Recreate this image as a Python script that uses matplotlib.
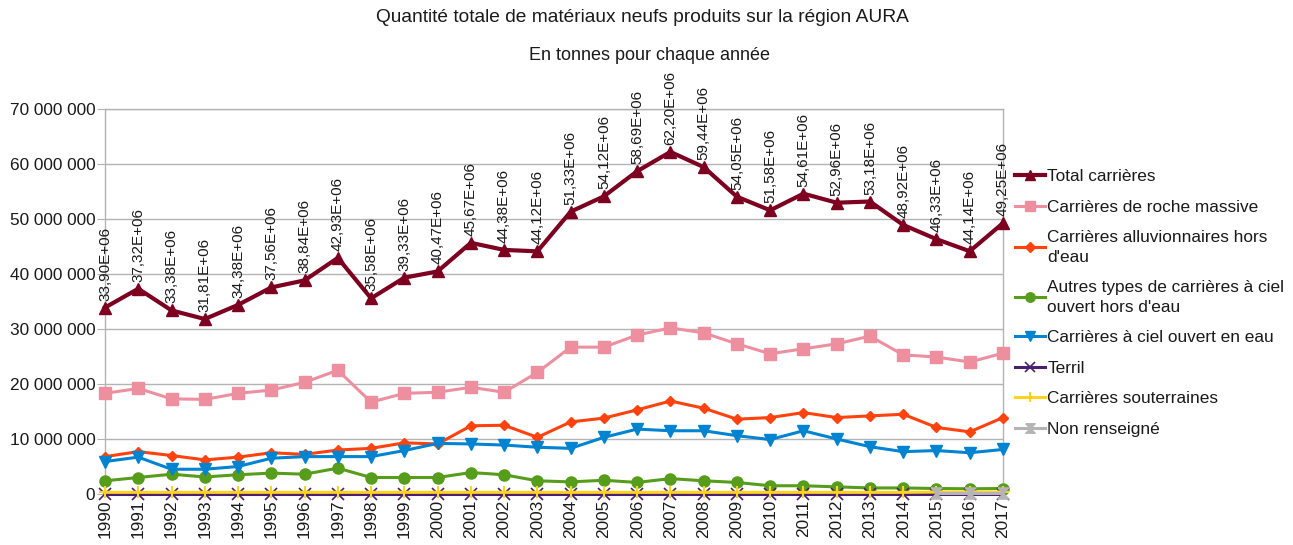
import matplotlib
matplotlib.use("Agg")
import matplotlib.pyplot as plt
import numpy as np
from matplotlib.ticker import FuncFormatter

plt.rcParams['font.family'] = ['Liberation Sans', 'DejaVu Sans']

years = [str(y) for y in range(1990, 2018)]

total = [33.90, 37.32, 33.38, 31.81, 34.38, 37.56, 38.84, 42.93, 35.58, 39.33,
         40.47, 45.67, 44.38, 44.12, 51.33, 54.12, 58.69, 62.20, 59.44, 54.05,
         51.58, 54.61, 52.96, 53.18, 48.92, 46.33, 44.14, 49.25]
roche = [18.3, 19.2, 17.3, 17.2, 18.3, 18.9, 20.3, 22.5, 16.7, 18.3,
         18.5, 19.4, 18.5, 22.1, 26.7, 26.7, 28.9, 30.2, 29.3, 27.3,
         25.5, 26.4, 27.3, 28.7, 25.3, 24.9, 24.0, 25.6]
alluv = [6.8, 7.7, 7.0, 6.2, 6.7, 7.5, 7.2, 8.0, 8.3, 9.3,
         9.1, 12.4, 12.5, 10.3, 13.1, 13.8, 15.3, 16.9, 15.6, 13.6,
         13.9, 14.8, 13.9, 14.2, 14.5, 12.1, 11.3, 13.9]
autres = [2.4, 3.0, 3.6, 3.1, 3.5, 3.8, 3.6, 4.7, 3.0, 3.0,
          3.0, 3.9, 3.5, 2.4, 2.2, 2.5, 2.1, 2.8, 2.4, 2.1,
          1.5, 1.5, 1.3, 1.1, 1.1, 1.0, 0.95, 1.0]
eau = [5.9, 6.7, 4.5, 4.5, 5.0, 6.5, 6.8, 6.8, 6.8, 7.9,
       9.2, 9.1, 8.9, 8.5, 8.3, 10.3, 11.8, 11.5, 11.5, 10.6,
       9.9, 11.5, 10.0, 8.6, 7.7, 7.9, 7.5, 8.1]
terril = [0.0] * 28
souterraines = [0.3] * 25 + [0.35, 0.35, 0.35]
non_renseigne = [np.nan] * 25 + [0.15, 0.15, 0.15]

labels = ["Total carrières", "Carrières de roche massive",
          "Carrières alluvionnaires hors\nd'eau",
          "Autres types de carrières à ciel\nouvert hors d'eau",
          "Carrières à ciel ouvert en eau", "Terril",
          "Carrières souterraines", "Non renseigné"]

hourglass = [(-1, 1), (1, 1), (-1, -1), (1, -1), (-1, 1)]
styles = [
    dict(color='#7e0021', marker='^', lw=3.0, ms=8),
    dict(color='#ee8fa0', marker='s', lw=2.2, ms=8),
    dict(color='#ff420e', marker='D', lw=2.2, ms=5.5),
    dict(color='#579d1c', marker='o', lw=2.2, ms=8),
    dict(color='#0084d1', marker='v', lw=2.2, ms=8),
    dict(color='#4b1f6f', marker='x', lw=2.2, ms=8, mew=1.2),
    dict(color='#ffd320', marker='+', lw=2.2, ms=9, mew=1.5),
    dict(color='#b4b4b4', marker=hourglass, lw=2.2, ms=8),
]
series = [total, roche, alluv, autres, eau, terril, souterraines, non_renseigne]

fig = plt.figure(figsize=(12.93, 5.45), dpi=100)
ax = fig.add_axes([105/1293, 1 - 494/545, (1003 - 105)/1293, (494 - 109)/545])

x = np.arange(len(years))
for s, lab, st in zip(series, labels, styles):
    vals = np.array(s, dtype=float) * 1e6
    ax.plot(x, vals, label=lab, color=st['color'], marker=st['marker'],
            lw=st['lw'], ms=st['ms'], mew=st.get('mew', 1.0), clip_on=False, zorder=3)

for xi, v in zip(x, total):
    ax.annotate(f"{v:.2f}".replace('.', ',') + "E+06", (xi, v * 1e6),
                xytext=(0, 5), textcoords='offset points', rotation=90,
                ha='center', va='bottom', fontsize=11, color='#1a1a1a')

ax.set_xlim(0, len(years) - 1)
ax.set_ylim(0, 70e6)
ax.set_yticks(np.arange(0, 70e6 + 1, 10e6))
ax.yaxis.set_major_formatter(FuncFormatter(lambda v, p: f"{int(v):,}".replace(',', ' ')))
ax.set_xticks(x)
ax.set_xticklabels(years, rotation=90, fontsize=12.4)
ax.tick_params(axis='y', labelsize=12.4, length=6, color='#b3b3b3', pad=1, labelcolor='#1a1a1a')
ax.tick_params(axis='x', length=0, pad=4, labelcolor='#1a1a1a')
ax.grid(axis='y', color='#b3b3b3', lw=1)
ax.set_axisbelow(True)
for sp in ax.spines.values():
    sp.set_color('#b3b3b3')
    sp.set_linewidth(1)

fig.text(0.497, 1 - 18/545, "Quantité totale de matériaux neufs produits sur la région AURA",
         ha='center', va='center', fontsize=13.8, color='#1a1a1a')
fig.text(0.502, 1 - 55/545, "En tonnes pour chaque année",
         ha='center', va='center', fontsize=13, color='#1a1a1a')

leg = ax.legend(loc='center left', bbox_to_anchor=(1006/1293, 1 - 303/545),
                bbox_transform=fig.transFigure, frameon=False, fontsize=12.4,
                handlelength=1.75, handletextpad=0.15, labelspacing=0.9, borderpad=0,
                markerscale=0.85)
for t in leg.get_texts():
    t.set_color('#1a1a1a')
    t.set_linespacing(1.37)

fig.savefig("out.png", dpi=100)
